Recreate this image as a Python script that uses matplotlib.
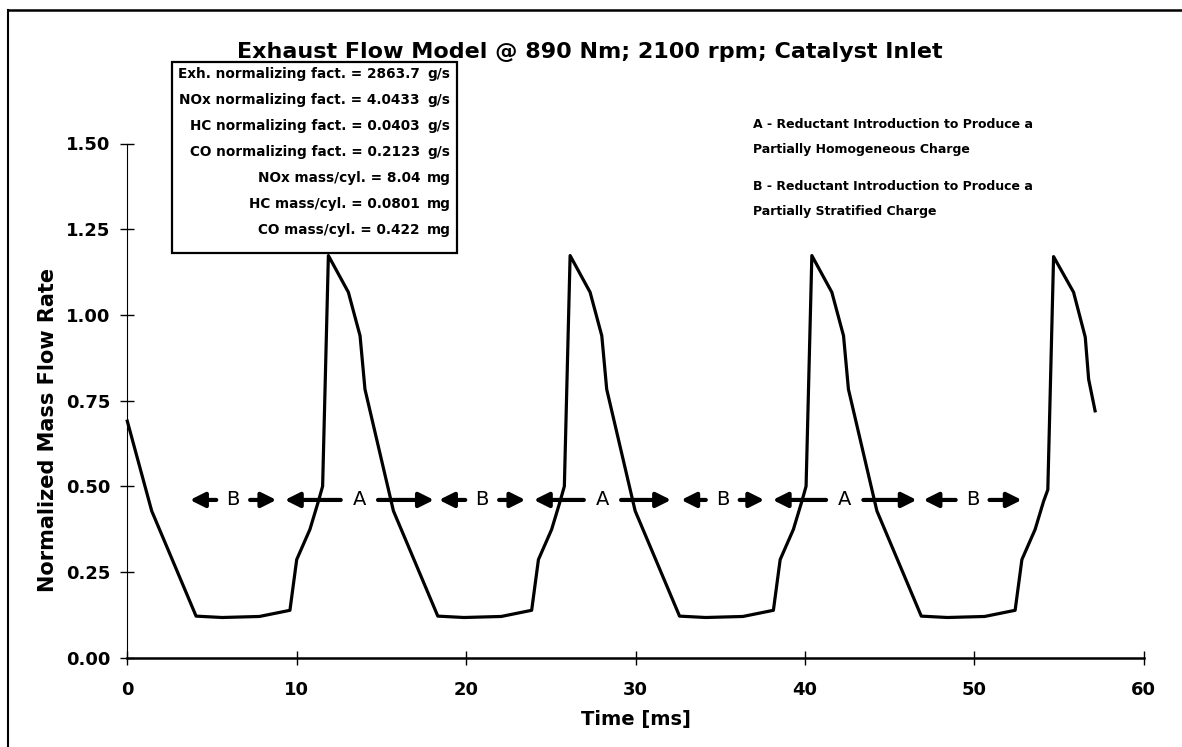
import matplotlib
matplotlib.use('Agg')
import matplotlib.pyplot as plt
from matplotlib.patches import Rectangle
from matplotlib.lines import Line2D
from matplotlib.ticker import FormatStrFormatter

# normalized exhaust mass flow at the catalyst inlet, four engine cycles
time_ms = [0.0, 1.44, 2.73, 4.06, 5.6, 7.8, 9.6, 10.0, 10.78, 11.28, 11.53, 11.87, 13.05, 13.74, 14.03,
           15.71, 17.0, 18.33, 19.87, 22.07, 23.87, 24.27, 25.05, 25.55, 25.8, 26.14, 27.32, 28.01, 28.3,
           29.98, 31.27, 32.6, 34.14, 36.34, 38.14, 38.54, 39.32, 39.82, 40.07, 40.41, 41.59, 42.28, 42.57,
           44.25, 45.54, 46.87, 48.41, 50.61, 52.41, 52.81, 53.59, 54.09, 54.34, 54.68, 55.86, 56.55, 56.75, 57.13]
flow_norm = [0.69, 0.428, 0.277, 0.121, 0.117, 0.12, 0.138, 0.286, 0.374, 0.456, 0.5, 1.173, 1.066, 0.939, 0.783,
             0.428, 0.277, 0.121, 0.117, 0.12, 0.138, 0.286, 0.374, 0.456, 0.5, 1.173, 1.066, 0.939, 0.783,
             0.428, 0.277, 0.121, 0.117, 0.12, 0.138, 0.286, 0.374, 0.456, 0.5, 1.173, 1.066, 0.939, 0.783,
             0.428, 0.277, 0.121, 0.117, 0.12, 0.138, 0.286, 0.374, 0.456, 0.49, 1.17, 1.066, 0.935, 0.812, 0.72]

# reductant injection windows (A = homogeneous, B = stratified)
window_names = ['B', 'A', 'B', 'A', 'B', 'A', 'B']
window_start = [3.7, 9.3, 18.4, 24.0, 32.7, 38.1, 47.0]
window_end = [8.8, 18.1, 23.5, 32.1, 37.6, 46.6, 52.8]
window_level = 0.46

box_lines = ['Exh. normalizing fact. = 2863.7', 'NOx normalizing fact. = 4.0433',
             'HC normalizing fact. = 0.0403', 'CO normalizing fact. = 0.2123',
             'NOx mass/cyl. = 8.04', 'HC mass/cyl. = 0.0801', 'CO mass/cyl. = 0.422']
box_units = ['g/s', 'g/s', 'g/s', 'g/s', 'mg', 'mg', 'mg']

notes = ['A - Reductant Introduction to Produce a', 'Partially Homogeneous Charge',
         'B - Reductant Introduction to Produce a', 'Partially Stratified Charge']

plt.rcParams['font.weight'] = 'bold'

W, H = 1182, 747
fig = plt.figure(figsize=(W / 100, H / 100), dpi=100)


def fx(px):
    return px / W


def fy(py):
    return 1 - py / H


ax = fig.add_axes([fx(127.3), fy(657.6), fx(1143.7) - fx(127.3), fy(143.5) - fy(657.6)])
ax.plot(time_ms, flow_norm, color='black', lw=2.3, solid_joinstyle='round', clip_on=False)

ax.set_xlim(0, 60)
ax.set_ylim(0, 1.5)
ax.set_xticks(range(0, 61, 10))
ax.set_yticks([0, 0.25, 0.5, 0.75, 1.0, 1.25, 1.5])
ax.yaxis.set_major_formatter(FormatStrFormatter('%.2f'))
for s in ['top', 'right']:
    ax.spines[s].set_visible(False)
ax.spines['left'].set_linewidth(0.8)
ax.spines['bottom'].set_linewidth(1.8)
ax.tick_params(axis='both', direction='inout', length=10, width=1.0, labelsize=13)
ax.tick_params(axis='y', pad=7)
ax.tick_params(axis='x', pad=12)

# double-headed arrows with the window letter in the middle
for name, a, b in zip(window_names, window_start, window_end):
    mid = (a + b) / 2
    gap = 1.0 if name == 'B' else 1.1
    for tip, tail in [(a, mid - gap), (b, mid + gap)]:
        ax.annotate('', xy=(tip, window_level), xytext=(tail, window_level),
                    arrowprops=dict(arrowstyle='-|>,head_length=0.8,head_width=0.4',
                                    mutation_scale=11, lw=3, color='black',
                                    shrinkA=0, shrinkB=0))
    ax.text(mid, window_level, name, ha='center', va='center', fontsize=14,
            fontweight='normal')

fig.text(fx(590), fy(52), 'Exhaust Flow Model @ 890 Nm; 2100 rpm; Catalyst Inlet',
         ha='center', va='center', fontsize=16, fontweight='bold')
fig.text(fx(48), fy(430), 'Normalized Mass Flow Rate', rotation=90,
         ha='center', va='center', fontsize=15, fontweight='bold')
fig.text(fx(636), fy(720), 'Time [ms]', ha='center', va='center',
         fontsize=14, fontweight='bold')

# constants box
fig.patches.append(Rectangle((fx(172), fy(253)), fx(457) - fx(172), fy(62) - fy(253),
                             transform=fig.transFigure, facecolor='white',
                             edgecolor='black', lw=1.6, zorder=3))
for i, (txt, unit) in enumerate(zip(box_lines, box_units)):
    y = 74 + 26 * i
    fig.text(fx(420), fy(y), txt, ha='right', va='center', fontsize=9.8, zorder=4)
    fig.text(fx(427), fy(y), unit, ha='left', va='center', fontsize=9.8, zorder=4)

for txt, y in zip(notes, [125, 149, 187, 211]):
    fig.text(fx(753), fy(y), txt, ha='left', va='center', fontsize=9)

# page frame
fig.lines.append(Line2D([fx(8), fx(1182)], [fy(10), fy(10)], transform=fig.transFigure,
                        color='black', lw=1.8))
fig.lines.append(Line2D([fx(8), fx(8)], [fy(10), fy(747)], transform=fig.transFigure,
                        color='black', lw=1.5))

fig.savefig('out.png', dpi=100)
